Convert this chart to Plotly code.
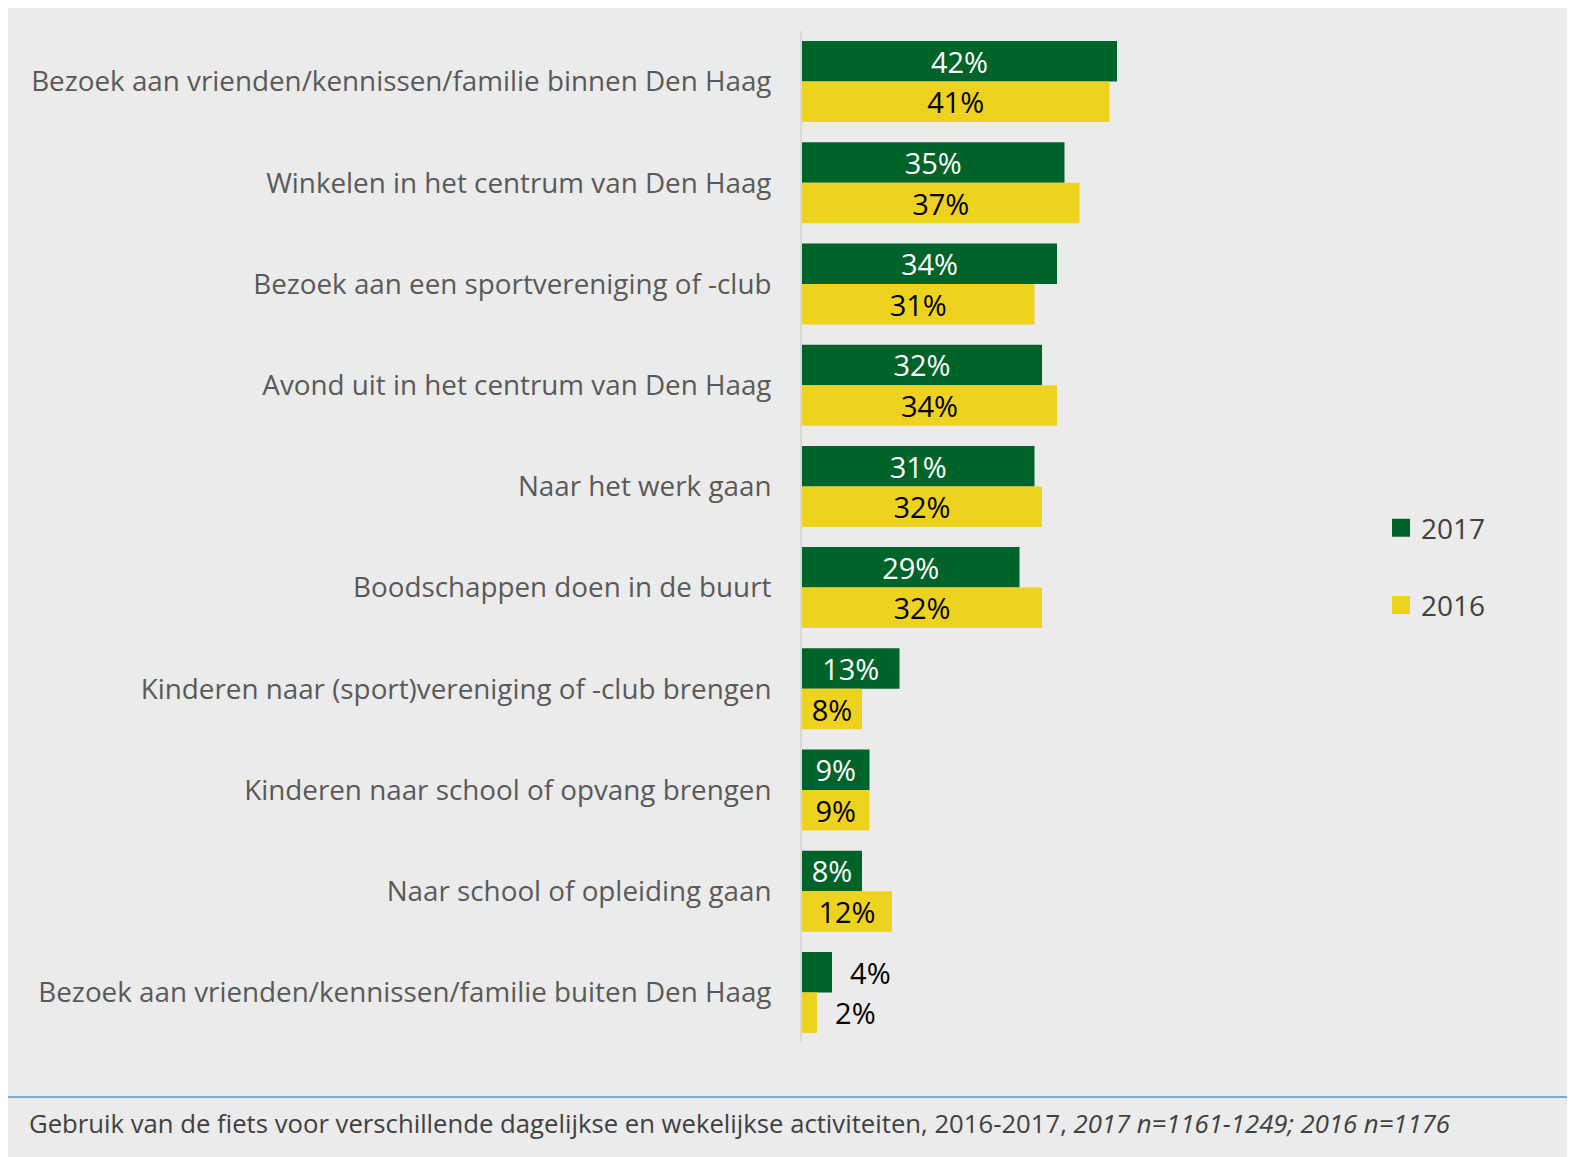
import plotly.graph_objects as go

categories = [
    "Bezoek aan vrienden/kennissen/familie binnen Den Haag",
    "Winkelen in het centrum van Den Haag",
    "Bezoek aan een sportvereniging of -club",
    "Avond uit in het centrum van Den Haag",
    "Naar het werk gaan",
    "Boodschappen doen in de buurt",
    "Kinderen naar (sport)vereniging of -club brengen",
    "Kinderen naar school of opvang brengen",
    "Naar school of opleiding gaan",
    "Bezoek aan vrienden/kennissen/familie buiten Den Haag",
]
values_2017 = [42, 35, 34, 32, 31, 29, 13, 9, 8, 4]
values_2016 = [41, 37, 31, 34, 32, 32, 8, 9, 12, 2]
series_names = ["2017", "2016"]
caption_plain = "Gebruik van de fiets voor verschillende dagelijkse en wekelijkse activiteiten, 2016-2017, "
caption_italic = "2017 n=1161-1249; 2016 n=1176"

GREEN = "#006329"
YELLOW = "#EDD21F"
BG = "#EBEBEB"
OFF = 8  # page offset of the figure div
W, H = 1567, 1149
L, T = 802 - OFF, 31 - OFF
B = H - (1043 - OFF)
XMAX = 60
PX_PER = 7.5
plot_w = XMAX * PX_PER
R = W - L - plot_w
plot_h = H - T - B


def px_x(px):
    return (px - OFF - L) / plot_w


def px_y(py):
    return 1 - (py - OFF - T) / plot_h


NB = "\u00a0\u00a0"


def labels(vals):
    return [(NB + f"{v}%") if v < 6 else f"{v}%" for v in vals]


def positions(vals):
    return ["outside" if v < 6 else "inside" for v in vals]


def colors(vals, inside_color):
    return ["#000000" if v < 6 else inside_color for v in vals]


fig = go.Figure()
for name, vals, col, txtcol, grp in [
    (series_names[0], values_2017, GREEN, "#FFFFFF", "a"),
    (series_names[1], values_2016, YELLOW, "#000000", "b"),
]:
    fig.add_trace(go.Bar(
        y=categories, x=vals, orientation="h", name=name,
        marker=dict(color=col, line=dict(width=0)),
        text=labels(vals), textposition=positions(vals),
        insidetextanchor="middle", cliponaxis=False, constraintext="none",
        textfont=dict(family="Open Sans", size=29, color=colors(vals, txtcol)),
        showlegend=False, legendgroup=grp,
    ))

for name, col, grp in [(series_names[0], GREEN, "a"), (series_names[1], YELLOW, "b")]:
    fig.add_trace(go.Scatter(
        x=[None], y=[None], mode="markers", name=name,
        marker=dict(symbol="square", size=16, color=col, line=dict(color=col, width=2)),
        legendgroup=grp, showlegend=True,
    ))

shapes = [
    dict(type="line", xref="paper", yref="paper",
         x0=px_x(0), x1=px_x(1600), y0=px_y(1097), y1=px_y(1097),
         line=dict(color="#80A8D8", width=2)),
]

annotations = [
    dict(xref="paper", yref="paper", x=px_x(27), y=px_y(1123), xanchor="left", yanchor="middle",
         showarrow=False, align="left",
         text=caption_plain + "<i>" + caption_italic + "</i>",
         font=dict(family="Open Sans", size=25.7, color="#404040")),
]

fig.update_layout(
    width=W, height=H,
    paper_bgcolor=BG, plot_bgcolor=BG,
    margin=dict(l=L, r=R, t=T, b=B, pad=0),
    barmode="group", bargap=0.2, bargroupgap=0,
    shapes=shapes, annotations=annotations,
    showlegend=True,
    legend=dict(xref="container", yref="container", x=(1381 - OFF) / W, y=1 - (503 - OFF) / H,
                xanchor="left", yanchor="top", traceorder="grouped", tracegroupgap=38,
                font=dict(family="Open Sans", size=28, color="#404040"),
                bgcolor="rgba(0,0,0,0)", itemwidth=30),
)
fig.update_xaxes(range=[0, XMAX], visible=False, showgrid=False, zeroline=False)
fig.update_yaxes(autorange="reversed", showline=True, linecolor="#D9D9D9", linewidth=2,
                 showgrid=False, zeroline=False, ticks="outside", ticklen=23, tickcolor=BG,
                 tickfont=dict(family="Open Sans", size=27.8, color="#595959"))

fig.write_html("out.html")
